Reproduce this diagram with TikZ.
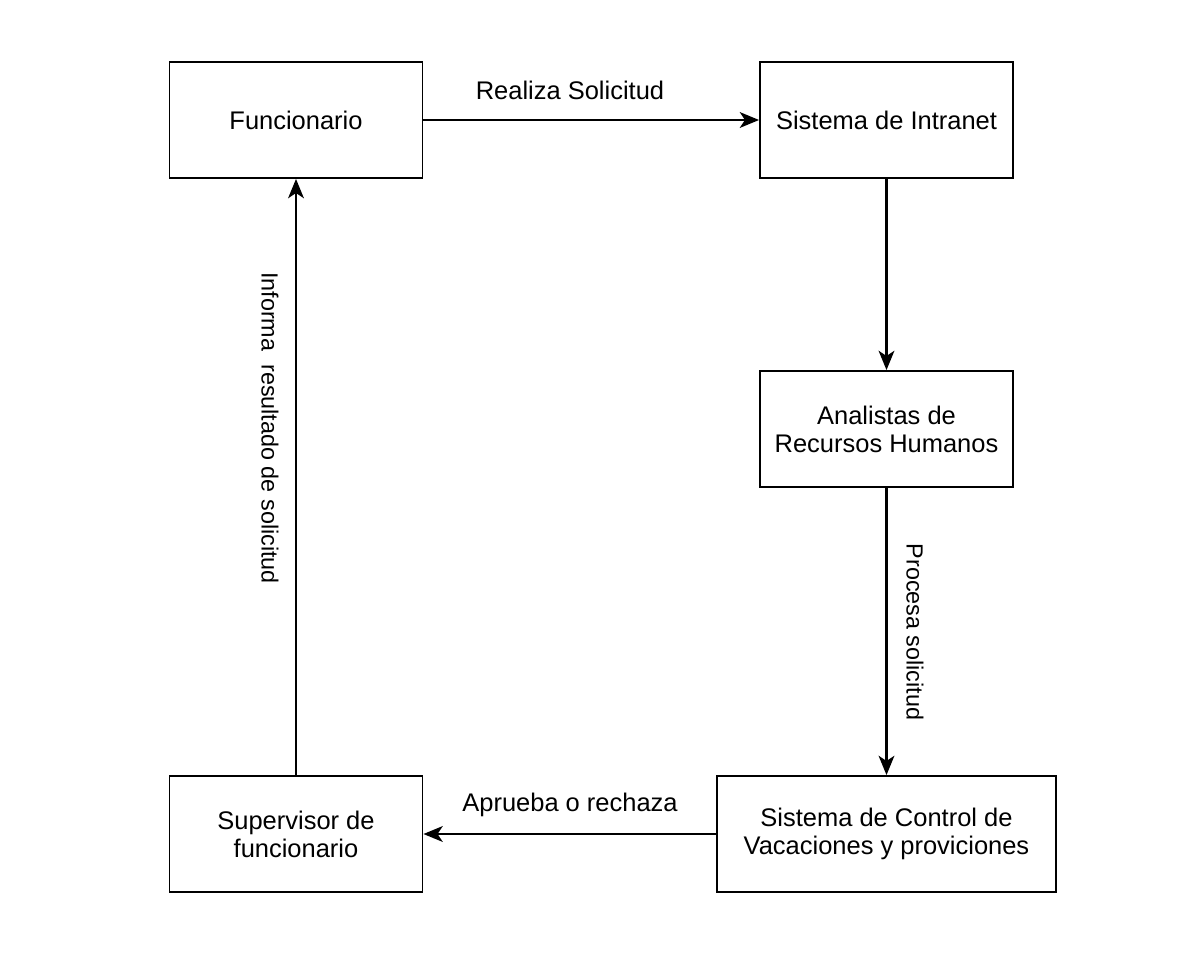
\documentclass[tikz,border=0pt]{standalone}
\usepackage{fontspec}
\setmainfont{Liberation Sans}
\usetikzlibrary{arrows.meta}
\tikzset{
  caja/.style={draw, line width=1.1pt, rectangle, minimum width=5.06cm, minimum height=2.32cm, align=center, font=\fontsize{14.5}{16}\selectfont},
  flecha/.style={line width=1.2pt, -{Stealth[length=11pt, width=9pt, inset=3pt]}},
  etiqueta/.style={font=\fontsize{14.5}{16}\selectfont},
  vertical/.style={rotate=-90, font=\fontsize{13.3}{16}\selectfont}
}
\begin{document}
\begin{tikzpicture}[x=0.02cm, y=-0.02cm]
\useasboundingbox (0,0) rectangle (1200,980);
\node[caja] (func) at (296,120){Funcionario};
\node[caja] (intra) at (886.5,120){Sistema de Intranet};
\node[caja] (anal) at (886.5,429){Analistas de\\Recursos Humanos};
\node[caja, minimum width=6.78cm] (ctrl) at (886.5,834){Sistema de Control de\\Vacaciones y proviciones};
\node[caja] (sup) at (296,834){Supervisor de\\funcionario};
\draw[flecha](func) -- (intra);
\node[etiqueta] (lreal) at (570,90){Realiza Solicitud};
\draw[flecha](intra) -- (anal);
\draw[flecha](anal) -- (ctrl);
\node[vertical] (lproc) at (915,632){Procesa solicitud};
\draw[flecha](ctrl) -- (sup);
\node[etiqueta] (lapr) at (570,805){Aprueba o rechaza};
\draw[flecha](sup) -- (func);
\node[vertical] (linf) at (270,428){Informa\ \ resultado de solicitud};
\end{tikzpicture}
\end{document}
